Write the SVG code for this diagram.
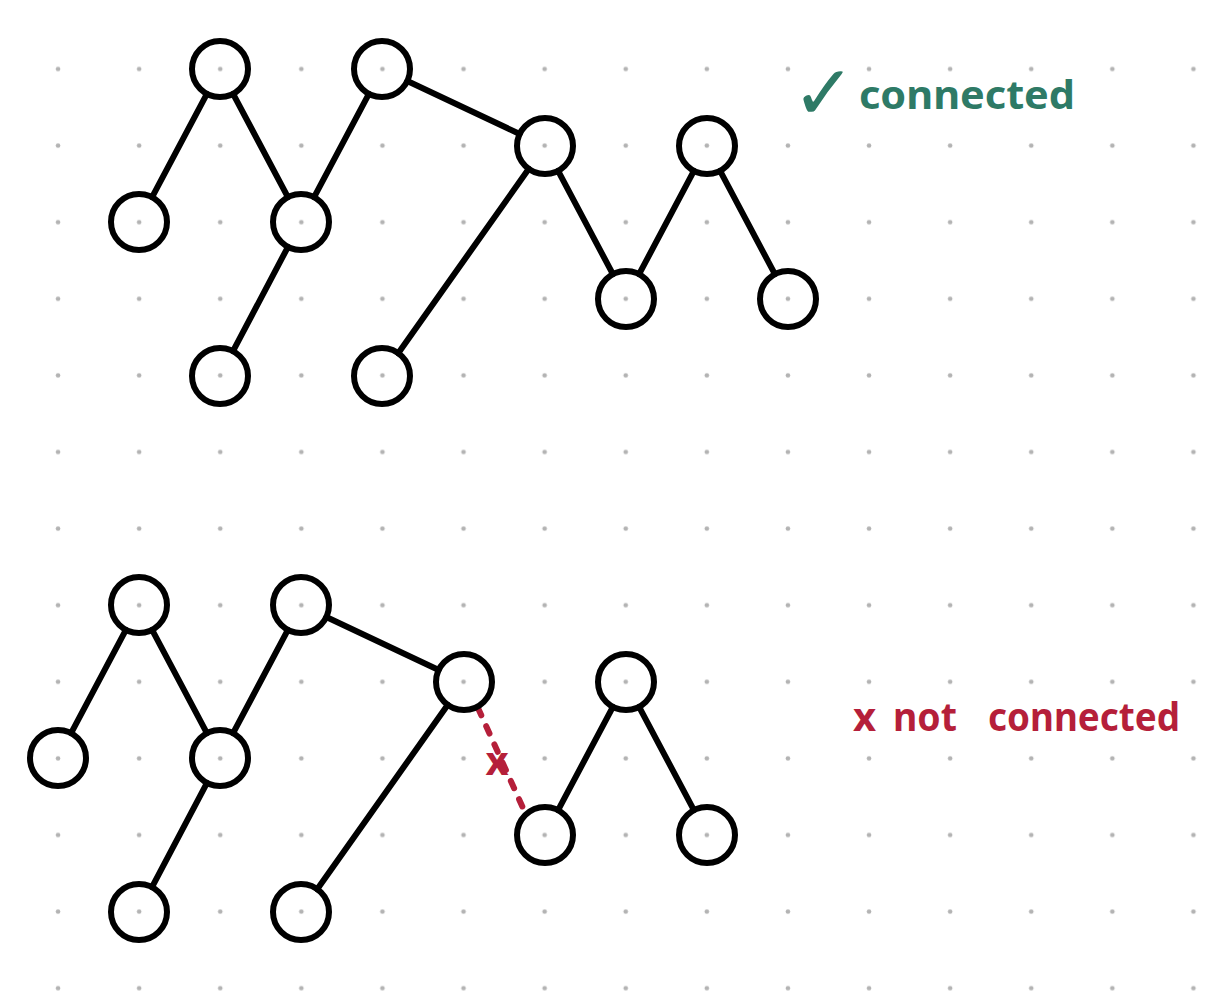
<svg xmlns="http://www.w3.org/2000/svg" width="1225" height="1001" viewBox="0 0 1225 1001">
<defs>
<style>
.dot{fill:#b3b3b3}
.edge{stroke:#000;stroke-width:6;stroke-linecap:round;fill:none}
.node{fill:none;stroke:#000;stroke-width:6}
.bad{stroke:#b51f3a;stroke-width:6;stroke-linecap:round;stroke-dasharray:8 12;fill:none}
.g{fill:#2e7a66;font-family:"Noto Sans",sans-serif;font-weight:bold}
.r{fill:#b51f3a;font-family:"Noto Sans",sans-serif;font-weight:bold}
</style>
<pattern id="grid" x="0" y="0" width="81.1" height="76.6" patternUnits="userSpaceOnUse" patternTransform="translate(17.5,30.7)">
<circle class="dot" cx="40.55" cy="38.3" r="2.3"/>
</pattern>
</defs>
<rect width="1225" height="1001" fill="#fff"/>
<rect width="1225" height="1001" fill="url(#grid)"/>

<g id="connectors">
<line class="edge" x1="206.9" y1="93.8" x2="152.1" y2="197.2"/>
<line class="edge" x1="233.1" y1="93.8" x2="287.9" y2="197.2"/>
<line class="edge" x1="368.9" y1="93.8" x2="314.1" y2="197.2"/>
<line class="edge" x1="407.3" y1="81" x2="519.7" y2="134"/>
<line class="edge" x1="288" y1="246.8" x2="233" y2="351.2"/>
<line class="edge" x1="528.8" y1="168.8" x2="398.2" y2="353.2"/>
<line class="edge" x1="558.1" y1="170.8" x2="612.9" y2="274.2"/>
<line class="edge" x1="639.1" y1="274.2" x2="693.9" y2="170.8"/>
<line class="edge" x1="720.1" y1="170.8" x2="774.9" y2="274.2"/>

<line class="edge" x1="125.9" y1="629.8" x2="71.1" y2="733.2"/>
<line class="edge" x1="152.1" y1="629.8" x2="206.9" y2="733.2"/>
<line class="edge" x1="287.9" y1="629.8" x2="233.1" y2="733.2"/>
<line class="edge" x1="326.3" y1="617" x2="438.7" y2="670"/>
<line class="edge" x1="207" y1="782.8" x2="152" y2="887.2"/>
<line class="edge" x1="447.8" y1="704.8" x2="317.2" y2="889.2"/>
<line class="edge" x1="558.1" y1="810.2" x2="612.9" y2="706.8"/>
<line class="edge" x1="639.1" y1="706.8" x2="693.9" y2="810.2"/>
<line class="bad" x1="478" y1="708" x2="523" y2="808"/>
<text class="r" x="497" y="775" font-size="40" text-anchor="middle">x</text>
</g>

<g id="n-top-1"><circle class="node" cx="220" cy="69" r="28"/></g>
<g id="n-top-2"><circle class="node" cx="382" cy="69" r="28"/></g>
<g id="n-top-3"><circle class="node" cx="139" cy="222" r="28"/></g>
<g id="n-top-4"><circle class="node" cx="301" cy="222" r="28"/></g>
<g id="n-top-5"><circle class="node" cx="545" cy="146" r="28"/></g>
<g id="n-top-6"><circle class="node" cx="707" cy="146" r="28"/></g>
<g id="n-top-7"><circle class="node" cx="220" cy="376" r="28"/></g>
<g id="n-top-8"><circle class="node" cx="382" cy="376" r="28"/></g>
<g id="n-top-9"><circle class="node" cx="626" cy="299" r="28"/></g>
<g id="n-top-10"><circle class="node" cx="788" cy="299" r="28"/></g>

<g id="n-bot-1"><circle class="node" cx="139" cy="605" r="28"/></g>
<g id="n-bot-2"><circle class="node" cx="301" cy="605" r="28"/></g>
<g id="n-bot-3"><circle class="node" cx="58" cy="758" r="28"/></g>
<g id="n-bot-4"><circle class="node" cx="220" cy="758" r="28"/></g>
<g id="n-bot-5"><circle class="node" cx="464" cy="682" r="28"/></g>
<g id="n-bot-6"><circle class="node" cx="626" cy="682" r="28"/></g>
<g id="n-bot-7"><circle class="node" cx="139" cy="912" r="28"/></g>
<g id="n-bot-8"><circle class="node" cx="301" cy="912" r="28"/></g>
<g id="n-bot-9"><circle class="node" cx="545" cy="835" r="28"/></g>
<g id="n-bot-10"><circle class="node" cx="707" cy="835" r="28"/></g>

<g id="label-connected">
<text class="g" x="792" y="119"><tspan font-size="76" style="font-family:'DejaVu Sans',sans-serif;font-weight:normal">✓</tspan><tspan x="859" y="109" font-size="40" textLength="216" lengthAdjust="spacingAndGlyphs">connected</tspan></text>
</g>
<g id="label-not-connected">
<text class="r" x="853" y="731" font-size="40">x</text>
<text class="r" x="893" y="731" font-size="40" textLength="64" lengthAdjust="spacingAndGlyphs">not</text>
<text class="r" x="988" y="731" font-size="40" textLength="192" lengthAdjust="spacingAndGlyphs">connected</text>
</g>
</svg>
